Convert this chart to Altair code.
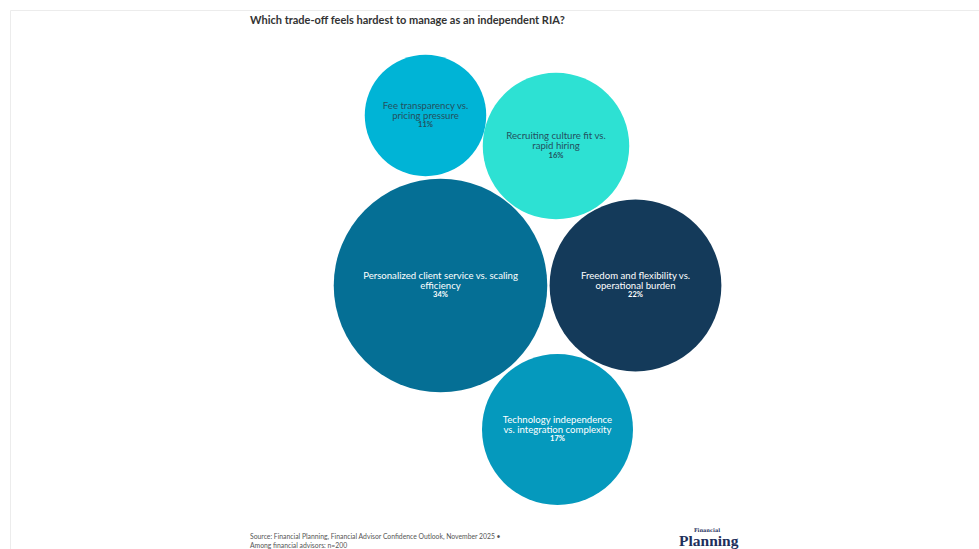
import altair as alt
import pandas as pd

# --- data ---
labels = [
    "Fee transparency vs.\npricing pressure",
    "Recruiting culture fit vs.\nrapid hiring",
    "Personalized client service vs. scaling\nefficiency",
    "Freedom and flexibility vs.\noperational burden",
    "Technology independence\nvs. integration complexity",
]
shares = [11, 16, 34, 22, 17]

# --- packed-bubble layout (centre of each bubble, cluster-relative units) ---
layout_x = [-101.5, 29.0, -86.5, 108.5, 30.5]
layout_y = [164.5, 134.0, -5.5, -5.5, -149.5]

# --- styles ---
fills = ["#00B4D6", "#2DE1D3", "#056F95", "#143A5A", "#0599BD"]
text_colors = ["#23505E", "#23505E", "#FFFFFF", "#FFFFFF", "#FFFFFF"]

df = pd.DataFrame({
    "label": [l.split("\n") for l in labels],
    "pct": [f"{v}%" for v in shares],
    "share": shares,
    "x": layout_x,
    "y": layout_y,
    "fill": fills,
    "tcolor": text_colors,
})

W, H = 979, 549
xs = alt.Scale(domain=[-527, W - 527], range=[0, W], nice=False, zero=False)
ys = alt.Scale(domain=[-(H - 280), 280], range=[H, 0], nice=False, zero=False)
X = alt.X("x:Q", scale=xs, axis=None)
Y = alt.Y("y:Q", scale=ys, axis=None)
FONT = "Lato"

border = alt.Chart(pd.DataFrame({"a": [0]})).mark_rect(
    fill="white", stroke="#ECECEC", strokeWidth=1
).encode(x=alt.value(10.5), x2=alt.value(990), y=alt.value(10.5), y2=alt.value(600))

bubbles = alt.Chart(df).mark_circle(opacity=1).encode(
    x=X, y=Y,
    size=alt.Size("share:Q", scale=alt.Scale(domain=[0, 34], range=[0, 45600]), legend=None),
    color=alt.Color("fill:N", scale=None),
)

lab = alt.Chart(df).mark_text(
    font=FONT, fontSize=9.6, baseline="middle", align="center", lineHeight=10, dy=-10
).encode(x=X, y=Y, text="label", color=alt.Color("tcolor:N", scale=None))

pct = alt.Chart(df).mark_text(
    font=FONT, fontSize=7.5, fontWeight="bold", baseline="middle", align="center", dy=9.5
).encode(x=X, y=Y, text="pct:N", color=alt.Color("tcolor:N", scale=None))

one = pd.DataFrame({"a": [0]})
title = alt.Chart(one).mark_text(
    text="Which trade-off feels hardest to manage as an independent RIA?",
    font=FONT, fontSize=11, fontWeight="bold", color="#333333", align="left", baseline="middle"
).encode(x=alt.value(250), y=alt.value(21))

src1 = alt.Chart(one).mark_text(
    text="Source: Financial Planning, Financial Advisor Confidence Outlook, November 2025 \u2022",
    font=FONT, fontSize=6.8, color="#555555", align="left", baseline="middle"
).encode(x=alt.value(250), y=alt.value(537))
src2 = alt.Chart(one).mark_text(
    text="Among financial advisors: n=200",
    font=FONT, fontSize=6.8, color="#555555", align="left", baseline="middle"
).encode(x=alt.value(250), y=alt.value(545.5))

logo_small = alt.Chart(one).mark_text(
    text="Financial", font="DejaVu Serif", fontSize=5, fontWeight="bold",
    color="#1E2F5C", align="center", baseline="middle"
).encode(x=alt.value(707), y=alt.value(529.5))
logo = alt.Chart(one).mark_text(
    text="Planning", font="Liberation Serif", fontSize=15.5, fontWeight="bold",
    color="#1E2F5C", align="left", baseline="alphabetic"
).encode(x=alt.value(679), y=alt.value(545.5))

chart = alt.layer(
    border, bubbles, lab, pct, title, src1, src2, logo_small, logo
).properties(
    width=W, height=H, padding=0, autosize=alt.AutoSizeParams(type="none")
).configure_view(stroke=None)

chart.save("out.html", embed_options={"renderer": "svg", "actions": False})
